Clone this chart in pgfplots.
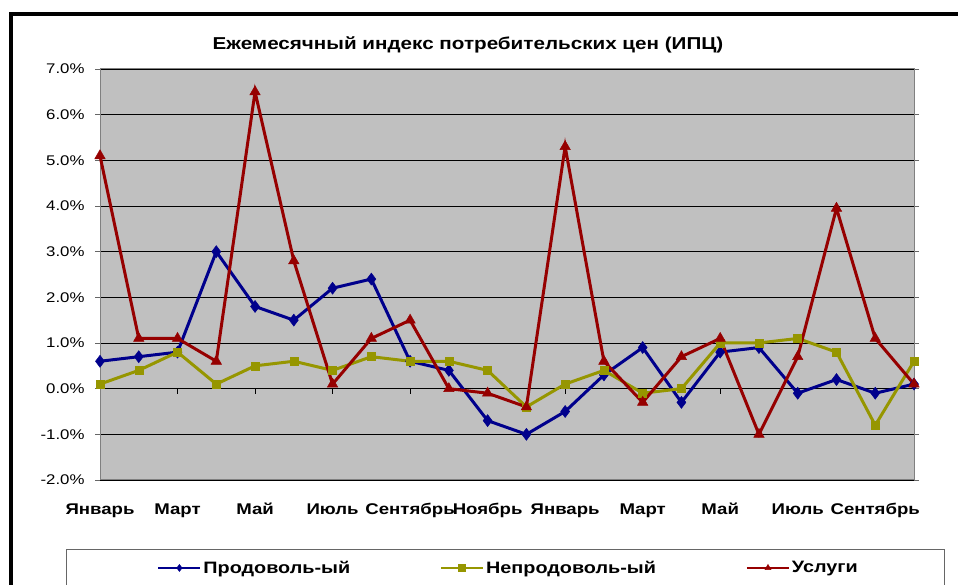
\documentclass[border=0pt]{standalone}
\usepackage{fontspec}
\setmainfont{Liberation Sans}[FakeStretch=1.2]
\usepackage{pgfplots}
\pgfplotsset{compat=1.18}
\definecolor{cblue}{RGB}{0,0,140}
\definecolor{colive}{RGB}{150,150,0}
\definecolor{cred}{RGB}{150,0,0}
\definecolor{bggray}{RGB}{192,192,192}
\begin{document}
\begin{tikzpicture}[x=1pt,y=1pt]
\path[use as bounding box] (0,0) rectangle (958,585);
\begin{scope}
\clip (0,0) rectangle (958,585);
\draw[line width=4pt] (11,-20) -- (11,571) -- (990,571);
\draw[black!60, line width=1pt] (66,-20) -- (66,35) -- (944,35) -- (944,-20);
\end{scope}
\node[font=\bfseries\fontsize{17.2}{17.2}\selectfont] at (468,540) {Ежемесячный индекс потребительских цен (ИПЦ)};
\begin{axis}[
  at={(100pt,105pt)}, anchor=south west, scale only axis,
  width=814pt, height=411pt,
  xmin=0, xmax=21, ymin=-2, ymax=7,
  axis background/.style={fill=bggray},
  axis line style={black!50, line width=1pt},
  ytick={-2,-1,...,7},
  ymajorgrids, grid style={black, line width=0.8pt},
  tick align=outside, major tick length=5pt,
  y tick style={black!60, line width=0.8pt},
  xtick={0,2,...,20},
  xticklabels={Январь,Март,Май,Июль,Сентябрь,Ноябрь,Январь,Март,Май,Июль,Сентябрь},
  x tick style={draw=none},
  xticklabel style={font=\bfseries\fontsize{15.5}{15.5}\selectfont, anchor=base, yshift=-30pt},
  yticklabel style={font=\fontsize{14}{14}\selectfont, xshift=-7pt},
  /pgf/number format/assume math mode=true,
  yticklabel={\pgfmathprintnumber[fixed,fixed zerofill,precision=1]{\tick}\%},
  legend columns=3,
  legend style={at={(0.502,-0.214)}, anchor=center, draw=none, fill=none,
    font=\bfseries\fontsize{16.5}{16.5}\selectfont,
    nodes={inner xsep=2pt},
    /tikz/column 2/.style={column sep=88pt},
    /tikz/column 4/.style={column sep=88pt}},
  legend image code/.code={\draw[#1, line width=2pt] (0pt,0pt) -- (42pt,0pt); \draw[#1, mark size=3.5pt, line width=0.5pt] plot coordinates {(21pt,0pt)};},
  clip=false,
]
\addplot[cblue, line width=3pt, mark=diamond*, mark size=6pt, mark options={line width=0.5pt}] coordinates {
(0,0.6)(1,0.7)(2,0.8)(3,3.0)(4,1.8)(5,1.5)(6,2.2)(7,2.4)(8,0.6)(9,0.4)(10,-0.7)(11,-1.0)(12,-0.5)(13,0.3)(14,0.9)(15,-0.3)(16,0.8)(17,0.9)(18,-0.1)(19,0.2)(20,-0.1)(21,0.1)};
\addlegendentry{Продоволь-ый}
\addplot[colive, line width=3pt, mark=square*, mark size=4pt, mark options={line width=0.5pt}] coordinates {
(0,0.1)(1,0.4)(2,0.8)(3,0.1)(4,0.5)(5,0.6)(6,0.4)(7,0.7)(8,0.6)(9,0.6)(10,0.4)(11,-0.4)(12,0.1)(13,0.4)(14,-0.1)(15,0.0)(16,1.0)(17,1.0)(18,1.1)(19,0.8)(20,-0.8)(21,0.6)};
\addlegendentry{Непродоволь-ый}
\addplot[cred, line width=3pt, mark=triangle*, mark size=6pt, mark options={line width=0.5pt}] coordinates {
(0,5.1)(1,1.1)(2,1.1)(3,0.6)(4,6.5)(5,2.8)(6,0.1)(7,1.1)(8,1.5)(9,0.0)(10,-0.1)(11,-0.4)(12,5.3)(13,0.6)(14,-0.3)(15,0.7)(16,1.1)(17,-1.0)(18,0.7)(19,3.95)(20,1.1)(21,0.1)};
\addlegendentry{Услуги}
\foreach \k in {2,4,...,20} {\edef\tmp{\noexpand\draw[black, line width=0.8pt] (axis cs:\k,0) -- ([yshift=-5pt]axis cs:\k,0);}\tmp}
\end{axis}
\end{tikzpicture}
\end{document}
